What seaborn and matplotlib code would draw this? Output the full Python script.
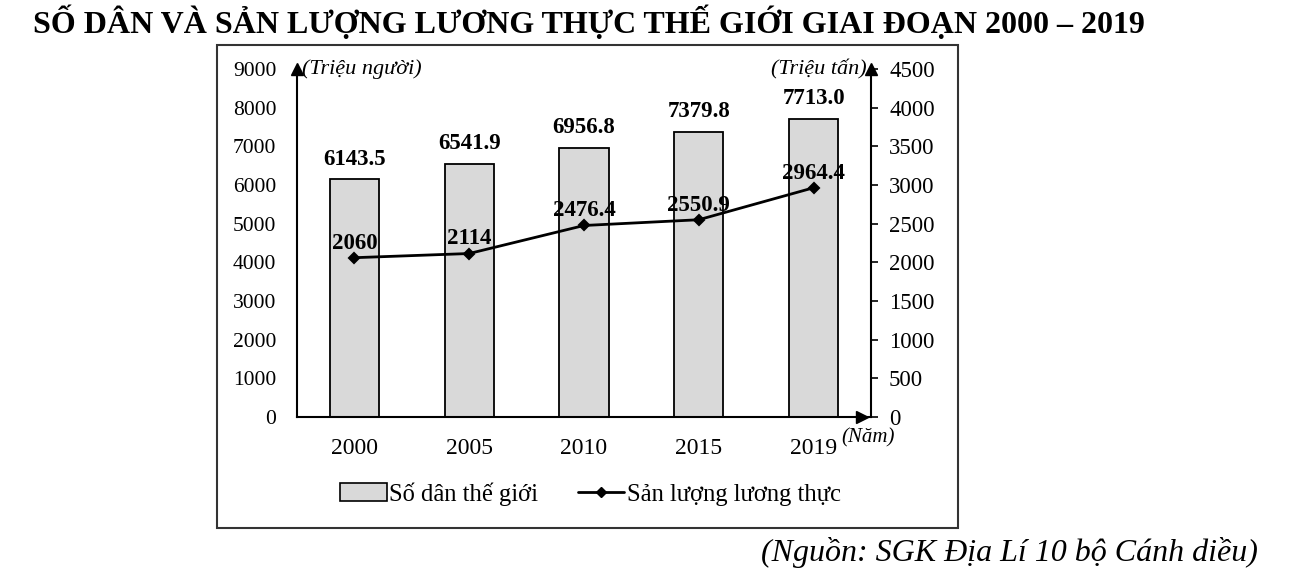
import matplotlib
matplotlib.use("Agg")
import matplotlib.pyplot as plt
import seaborn as sns
import pandas as pd
from matplotlib.patches import Rectangle, Patch
from matplotlib.lines import Line2D

# Data
years = ["2000", "2005", "2010", "2015", "2019"]
population = [6143.5, 6541.9, 6956.8, 7379.8, 7713.0]
food_output = [2060, 2114, 2476.4, 2550.9, 2964.4]
pop_labels = ["6143.5", "6541.9", "6956.8", "7379.8", "7713.0"]
food_labels = ["2060", "2114", "2476.4", "2550.9", "2964.4"]

df = pd.DataFrame({"Năm": years, "Số dân": population, "Sản lượng": food_output})

sns.set_style("white")
plt.rcParams["font.family"] = ["Liberation Serif", "DejaVu Serif"]
plt.rcParams["text.color"] = "black"
plt.rcParams["xtick.color"] = "black"
plt.rcParams["ytick.color"] = "black"
plt.rcParams["axes.labelcolor"] = "black"

fig = plt.figure(figsize=(12.89, 5.77), dpi=100)
ax = fig.add_axes([0.2304, 0.2773, 0.4453, 0.6031])

# Bars - population
sns.barplot(data=df, x="Năm", y="Số dân", color="#d9d9d9", edgecolor="black",
            linewidth=1.3, width=0.43, saturation=1, ax=ax)
for i, lab in enumerate(pop_labels):
    ax.annotate(lab, (i, population[i]), xytext=(0, 7), textcoords="offset points",
                ha="center", va="bottom", fontsize=16.5, fontweight="bold")

ax.set_ylim(0, 9000)
ax.set_yticks(range(0, 9001, 1000))
ax.set_xlim(-0.5, 4.5)
ax.set_xlabel("")
ax.set_ylabel("")
ax.tick_params(axis="y", length=0, labelsize=15.5, pad=15, labelcolor="black")
ax.tick_params(axis="x", length=0, labelsize=17, pad=15, labelcolor="black")

# Line - food output
ax2 = ax.twinx()
sns.pointplot(data=df, x="Năm", y="Sản lượng", color="black", marker="D",
              markersize=5, linewidth=2, ax=ax2)
ax2.set_ylim(0, 4500)
ax2.set_yticks(range(0, 4501, 500))
ax2.set_xlim(-0.5, 4.5)
ax2.set_ylabel("")
ax2.set_xlabel("")
ax2.tick_params(axis="y", length=5, width=1.2, labelsize=16.5, pad=8, direction="out",
                color="black", labelcolor="black")
for i, lab in enumerate(food_labels):
    ax2.annotate(lab, (i, food_output[i]), xytext=(0, 3), textcoords="offset points",
                 ha="center", va="bottom", fontsize=16.5, fontweight="bold")

for a in (ax, ax2):
    a.spines["top"].set_visible(False)
    for s in ("left", "right", "bottom"):
        a.spines[s].set_linewidth(1.5)
        a.spines[s].set_color("black")
ax.spines["right"].set_visible(False)
ax2.spines["left"].set_visible(False)
ax2.spines["bottom"].set_visible(False)

# Axis arrows
ax.plot(0, 1, marker="^", ms=9, color="black", transform=ax.transAxes, clip_on=False)
ax.plot(1, 1, marker="^", ms=9, color="black", transform=ax.transAxes, clip_on=False)
ax.plot(0.985, 0, marker=">", ms=9, color="black", transform=ax.transAxes, clip_on=False)

# Units
ax.text(0.008, 1.0, "(Triệu người)", transform=ax.transAxes, fontsize=16,
        style="italic", ha="left", va="center")
ax.text(0.992, 1.0, "(Triệu tấn)", transform=ax.transAxes, fontsize=16,
        style="italic", ha="right", va="center")
ax.text(0.948, -0.06, "(Năm)", transform=ax.transAxes, fontsize=15,
        style="italic", ha="left", va="center")

# Legend
handles = [Patch(facecolor="#d9d9d9", edgecolor="black", linewidth=1.2, label="Số dân thế giới"),
           Line2D([0], [0], color="black", lw=2, marker="D", ms=5, label="Sản lượng lương thực")]
fig.legend(handles=handles, loc="center", bbox_to_anchor=(0.458, 0.144), ncol=2,
           frameon=False, fontsize=17.7, handlelength=1.9, handletextpad=0.1,
           columnspacing=1.6)

# Frame around the chart
fig.patches.append(Rectangle((0.1683, 0.0849), 0.5749, 0.8371, transform=fig.transFigure,
                             fill=False, edgecolor="#333333", linewidth=1.5))

fig.text(0.457, 0.960, "SỐ DÂN VÀ SẢN LƯỢNG LƯƠNG THỰC THẾ GIỚI GIAI ĐOẠN 2000 – 2019",
         ha="center", va="center", fontsize=23, fontweight="bold")
fig.text(0.976, 0.042, "(Nguồn: SGK Địa Lí 10 bộ Cánh diều)", ha="right", va="center",
         fontsize=23, style="italic")

fig.savefig("out.png", dpi=100)
